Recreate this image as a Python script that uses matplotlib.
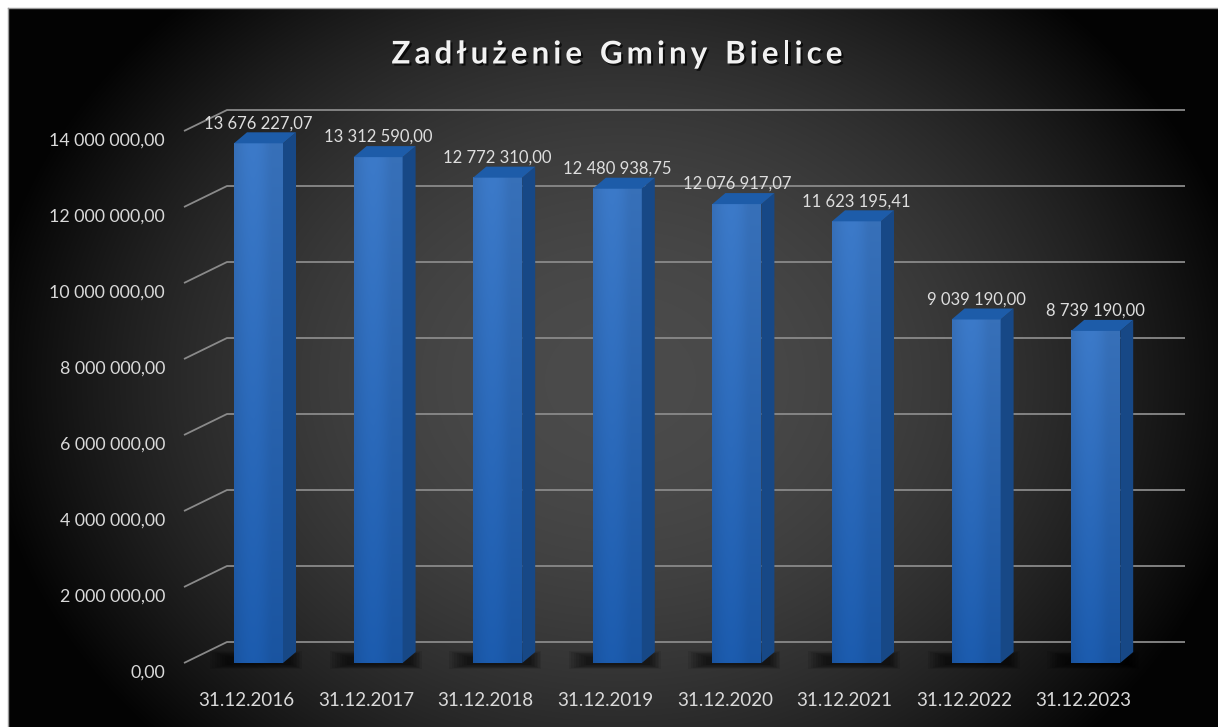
import numpy as np
import matplotlib
matplotlib.use('Agg')
import matplotlib.pyplot as plt
from matplotlib.patches import Polygon, Rectangle
from matplotlib.font_manager import FontProperties
import matplotlib.patheffects as pe

plt.rcParams['font.family'] = ['Lato', 'DejaVu Sans']

# data
dates = ["31.12.2016", "31.12.2017", "31.12.2018", "31.12.2019",
         "31.12.2020", "31.12.2021", "31.12.2022", "31.12.2023"]
debt = [13676227.07, 13312590.00, 12772310.00, 12480938.75,
        12076917.07, 11623195.41, 9039190.00, 8739190.00]
debt_labels = ["13 676 227,07", "13 312 590,00", "12 772 310,00", "12 480 938,75",
               "12 076 917,07", "11 623 195,41", "9 039 190,00", "8 739 190,00"]
yticks = [0, 2000000, 4000000, 6000000, 8000000, 10000000, 12000000, 14000000]
ytick_labels = ["0,00", "2 000 000,00", "4 000 000,00", "6 000 000,00",
                "8 000 000,00", "10 000 000,00", "12 000 000,00", "14 000 000,00"]
title = "Zadłużenie Gminy Bielice"

W, H = 1218, 727
PX_X = 119.6          # pixels per category
PX_Y = 38.0 / 1e6     # pixels per zloty
X0, Y0 = 258.5, 663   # pixel position of (first category, 0)

def dx(px):
  return px / PX_X

def dy(px):
  return px / PX_Y

fig = plt.figure(figsize=(W / 100, H / 100), dpi=100)
fig.patch.set_facecolor("white")

# dark panel with a radial glow
bg = fig.add_axes([8 / W, 0, (W - 8) / W, (H - 8) / H])
bg.set_axis_off()
gx, gy = np.meshgrid(np.arange(8, W), np.arange(8, H))
r = np.sqrt(((gx - 620) / 640.0) ** 2 + ((gy - 380) / 520.0) ** 2)
f = np.clip(1 - r ** 2, 0, 1)
c = 72 * f + 3
bg.imshow(np.dstack([c, c, c]).astype(np.uint8), aspect="auto", interpolation="bilinear")
fig.add_artist(plt.Line2D([8 / W, 1], [1 - 8 / H, 1 - 8 / H], color="#9a9a9a", lw=1))
fig.add_artist(plt.Line2D([8 / W, 8 / W], [0, 1 - 8 / H], color="#9a9a9a", lw=1))

ax = fig.add_axes([0, 0, 1, 1])
ax.patch.set_alpha(0)
ax.set_axis_off()

# back wall gridlines + perspective diagonals
back_dx, back_dy = dx(43), dy(21)
left_front = dx(184 - X0)
right_back = dx(1185 - X0)
for v, lab in zip(yticks, ytick_labels):
  ax.plot([left_front, left_front + back_dx, right_back], [v, v + back_dy, v + back_dy],
          color="#8a8a8a", lw=1.3, zorder=1, solid_capstyle="butt")
  ax.text(dx(165 - X0), v - dy(10), lab, ha="right", va="center",
          color="#d9d9d9", fontsize=12.8)

# 3d bars
bw = dx(49)
sx, sy = dx(13), dy(11)
n = 64
t = np.linspace(0, 1, n)[:, None]
top_c = np.array([0.235, 0.478, 0.788])
bot_c = np.array([0.110, 0.361, 0.686])
grad = top_c * (1 - t) + bot_c * t
h = np.linspace(0, 1, 16)[None, :]
shade = 0.92 + 0.08 * np.sin(np.pi * np.clip(h * 1.3, 0, 1))
front_img = np.clip(grad[:, None, :] * shade[:, :, None], 0, 1)

for i, (v, lab) in enumerate(zip(debt, debt_labels)):
  L, R = i - bw / 2, i + bw / 2
  # soft floor shadow, pushed a bit to the left
  for k in range(8):
    ax.add_patch(Rectangle((L - dx(24 - 2.5 * k), -dy(6 - k * 0.6)),
                           (R + sx - L) + dx(30 - 4 * k), dy(18 - k * 1.4),
                           color="black", alpha=0.09, lw=0, zorder=2))
  ax.imshow(front_img, extent=(L, R, 0, v), aspect="auto", zorder=4, interpolation="bilinear")
  ax.add_patch(Polygon([(R, 0), (R + sx, sy), (R + sx, v + sy), (R, v)],
                       closed=True, color="#174886", lw=0, zorder=4))
  ax.add_patch(Polygon([(L, v), (R, v), (R + sx, v + sy), (L + sx, v + sy)],
                       closed=True, color="#1d5ca9", lw=0, zorder=4))
  ax.text(i, v + dy(20), lab, ha="center", va="center", color="#dedede", fontsize=12)
  ax.text(i - dx(12), -dy(37), dates[i], ha="center", va="center",
          color="#d9d9d9", fontsize=13.5)

ax.set_xlim(-X0 / PX_X, (W - X0) / PX_X)
ax.set_ylim(-(H - Y0) / PX_Y, Y0 / PX_Y)

# title with wide letter spacing, drawn char by char
fp = FontProperties(family=["Lato", "DejaVu Sans"], weight="bold", size=22.5)
renderer = fig.canvas.get_renderer()
widths = [renderer.get_text_width_height_descent(ch if ch != " " else "n", fp, False)[0] * (0.55 if ch == " " else 1)
          for ch in title]
target_w = 451.0
gap = (target_w - sum(widths)) / (len(title) - 1)
xpos = 617 - target_w / 2
shadow = [pe.withSimplePatchShadow(offset=(1.5, -1.5), shadow_rgbFace="black", alpha=0.7)]
for ch, w in zip(title, widths):
  if ch != " ":
    fig.text(xpos / W, 1 - 52 / H, ch, ha="left", va="center_baseline", color="#f2f2f2",
             fontproperties=fp, path_effects=shadow)
  xpos += w + gap

plt.savefig("out.png", dpi=100)
